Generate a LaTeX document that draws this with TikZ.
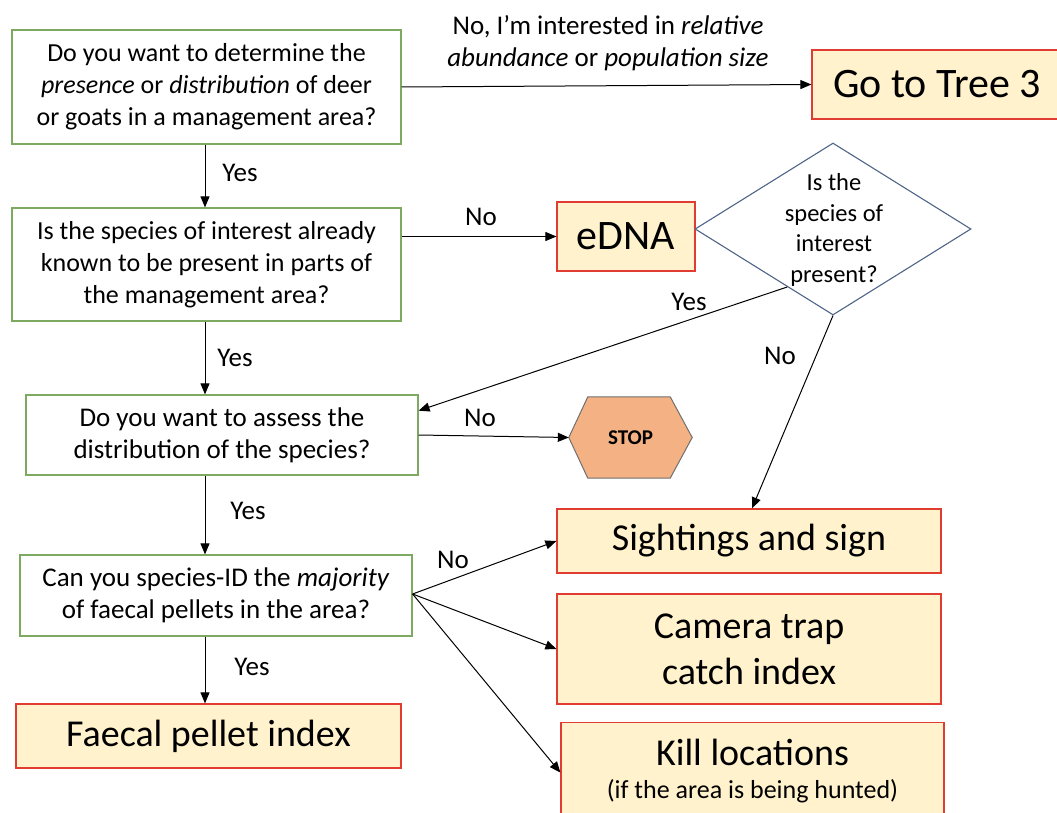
\documentclass[tikz,border=0pt]{standalone}
\usepackage{fontspec}
\setmainfont{Carlito}
\usetikzlibrary{shapes.geometric,arrows.meta,calc}
\definecolor{qgreen}{HTML}{7EA960}
\definecolor{ored}{HTML}{E03C31}
\definecolor{ofill}{HTML}{FFF2CC}
\definecolor{dblue}{HTML}{4F6587}
\definecolor{stopfill}{HTML}{F4B183}
\definecolor{stopedge}{HTML}{6F6F6F}
\tikzset{
  qbox/.style={draw=qgreen, line width=1.2pt, fill=white, inner sep=0pt, align=center,
    font=\fontsize{26}{32}\selectfont},
  obox/.style={draw=ored, line width=1.2pt, fill=ofill, inner sep=0pt, align=center,
    font=\fontsize{38}{46}\selectfont},
  arr/.style={-{Triangle[length=11pt,width=9pt]}, line width=1pt, black},
  lbl/.style={font=\fontsize{27}{32}\selectfont, inner sep=0pt, align=center},
}
\begin{document}
\begin{tikzpicture}[x=1pt,y=-1pt]
\useasboundingbox (0,0) rectangle (1057,813);
% question boxes
\node[qbox, minimum width=389pt, minimum height=114pt] (q1) at (206.5,87)
  {Do you want to determine the\\ \textit{presence} or \textit{distribution} of deer\\ or goats in a management area?};
\node[qbox, minimum width=389pt, minimum height=113pt] (q2) at (206.5,264.5)
  {Is the species of interest already\\ known to be present in parts of\\ the management area?};
\node[qbox, font=\fontsize{27}{32}\selectfont, minimum width=392pt, minimum height=80pt] (q3) at (222,435)
  {Do you want to assess the\\ distribution of the species?};
\node[qbox, font=\fontsize{27}{32}\selectfont, minimum width=392pt, minimum height=81pt] (q4) at (216,595.5)
  {Can you species-ID the \textit{majority}\\ of faecal pellets in the area?};
% outcome boxes
\node[obox, font=\fontsize{42}{50}\selectfont, minimum width=250pt, minimum height=69pt] (tree3) at (937,84.5) {Go to Tree 3};
\node[obox, font=\fontsize{42}{50}\selectfont, minimum width=138pt, minimum height=69pt] (edna) at (626,236.5) {eDNA};
\node[obox, minimum width=385pt, minimum height=64pt] (faecal) at (208.5,736) {Faecal pellet index};
\node[obox, minimum width=384pt, minimum height=64pt] (sight) at (749,541) {Sightings and sign};
\node[obox, minimum width=384pt, minimum height=110pt] (cam) at (749,649) {Camera trap\\ catch index};
\node[obox, minimum width=383pt, minimum height=96pt, anchor=north] (kill) at (752.5,722) {};
\node[font=\fontsize{38}{46}\selectfont, inner sep=0pt] (killa) at (752.5,752) {Kill locations};
\node[font=\fontsize{26}{30}\selectfont, inner sep=0pt] (killb) at (752.5,791) {(if the area is being hunted)};
% diamond
\node[diamond, draw=dblue, line width=1.1pt, fill=white, minimum width=276pt, minimum height=172pt, inner sep=0pt] (dia) at (833,229) {};
\node[font=\fontsize{24.5}{30.5}\selectfont, align=center, inner sep=0pt] (diatext) at (834,230)
  {Is the\\ species of\\ interest\\ present?};
% stop hexagon
\node[minimum width=123pt, minimum height=81pt, inner sep=0pt] (stop) at (630.5,437.5) {};
\draw[draw=stopedge, line width=1pt, fill=stopfill]
  (stop.west) -- ($(stop.north west)+(19,0)$) -- ($(stop.north east)+(-22,0)$) -- (stop.east)
  -- ($(stop.south east)+(-22,0)$) -- ($(stop.south west)+(19,0)$) -- cycle;
\node[font=\bfseries\fontsize{21}{25}\selectfont, inner sep=0pt] (stoptext) at (stop.center) {STOP};
% connectors
\draw[arr] (q1.east) -- (tree3.west);
\node[lbl] (l1) at (608,43) {No, I’m interested in \textit{relative}\\ \textit{abundance} or \textit{population size}};
\draw[arr] ([xshift=-1.5pt]q1.south) -- ([xshift=-1.5pt]q1.south |- q2.north);
\node[lbl] (l2) at (240,173) {Yes};
\draw[arr] (q2.east |- edna.west) -- (edna.west);
\node[lbl] (l3) at (481,217) {No};
\draw[arr] ([xshift=-1.5pt]q2.south) -- ([xshift=-1.5pt]q2.south |- q3.north);
\node[lbl] (l4) at (235,358) {Yes};
\coordinate (yesstart) at ($(dia.west)!0.67!(dia.south)$);
\draw[arr] (yesstart) -- ($(q3.north east)!0.2!(q3.south east)$);
\node[lbl] (l5) at (689,302) {Yes};
\draw[arr] (dia.south) -- ([xshift=3pt]sight.north);
\node[lbl] (l6) at (780,356) {No};
\draw[arr] (q3.east) -- (stop.west);
\node[lbl] (l7) at (480,418) {No};
\draw[arr] ([xshift=-17pt]q3.south) -- ([xshift=-17pt]q3.south |- q4.north);
\node[lbl] (l8) at (248,511) {Yes};
\draw[arr] ([xshift=-11pt]q4.south) -- ([xshift=-11pt]q4.south |- faecal.north);
\node[lbl] (l9) at (252,667) {Yes};
\draw[arr] ([yshift=1.5pt]q4.east) -- (sight.west);
\draw[arr] ([yshift=1.5pt]q4.east) -- (cam.west);
\draw[arr] ([yshift=1.5pt]q4.east) -- ([yshift=-2pt]kill.west);
\node[lbl] (l10) at (453,560) {No};
\end{tikzpicture}
\end{document}
